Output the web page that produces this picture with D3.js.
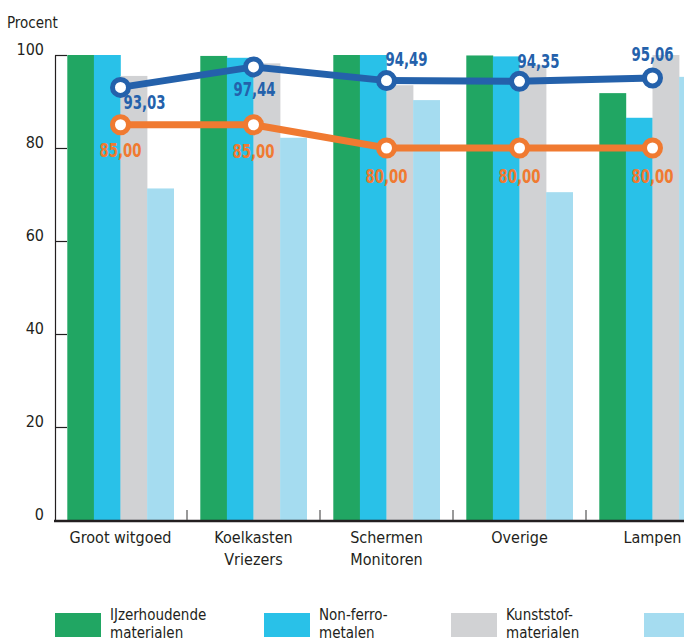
<!DOCTYPE html>
<html>
<head>
<meta charset="utf-8">
<script src="https://cdn.jsdelivr.net/npm/d3@7"></script>
<style>
  body { margin: 0; background: #fff; }
  svg text { font-family: "DejaVu Sans Condensed", "DejaVu Sans", sans-serif; font-stretch: condensed; fill: #231f20; }
</style>
</head>
<body>
<div id="graph"></div>
<script>
// data
var categories = ["Groot witgoed", "Koelkasten\nVriezers", "Schermen\nMonitoren", "Overige", "Lampen"]
var series = ["IJzerhoudende\nmaterialen", "Non-ferro-\nmetalen", "Kunststof-\nmaterialen", "Overige\nmaterialen"]
var ijzer     = [100, 99.8, 100, 99.9, 91.8]
var nonferro  = [100, 99.4, 100, 99.7, 86.5]
var kunststof = [95.5, 98.2, 93.5, 97.8, 100]
var overig    = [71.3, 82.2, 90.3, 70.5, 95.3]
var hergebruik = [93.03, 97.44, 94.49, 94.35, 95.06]   // blue line
var norm       = [85, 85, 80, 80, 80]                   // orange line
var yTicks = [0, 20, 40, 60, 80, 100]

var width = 684, height = 639
var barColors = ["#21a663", "#29c1e8", "#d1d2d4", "#a5dcf0"]
var blue = "#2461ab", orange = "#f07a31"

var svg = d3.select("#graph").append("svg").attr("width", width).attr("height", height)

var x = d3.scaleBand().domain(d3.range(categories.length)).range([54, 719])
    .paddingInner(0.2).paddingOuter(0.1)
var x1 = d3.scaleBand().domain(d3.range(series.length)).range([0, x.bandwidth()])
var y = d3.scaleLinear().domain([0, 100]).range([520, 55])

var values = [ijzer, nonferro, kunststof, overig]

// bars
var groups = svg.append("g").selectAll("g").data(categories).enter().append("g")
    .attr("transform", function (d, i) { return "translate(" + x(i) + ",0)" })
groups.selectAll("rect").data(function (d, i) { return values.map(function (s) { return s[i] }) })
    .enter().append("rect")
    .attr("x", function (d, j) { return x1(j) })
    .attr("width", x1.bandwidth() + 0.3)
    .attr("y", function (d) { return y(d) })
    .attr("height", function (d) { return y(0) - y(d) })
    .attr("fill", function (d, j) { return barColors[j] })

// y axis
var yAxis = svg.append("g").attr("transform", "translate(55,0)")
    .call(d3.axisLeft(y).tickValues(yTicks).tickSize(-12).tickSizeOuter(0).tickPadding(11))
yAxis.attr("font-family", null).attr("font-size", null)
yAxis.select(".domain").attr("stroke", "#231f20").attr("stroke-width", 1.2)
yAxis.selectAll(".tick line").attr("stroke", "#231f20").attr("stroke-width", 1.2)
    .style("display", function (d) { return d === 0 ? "none" : null })
yAxis.selectAll(".tick text").attr("font-size", 16).attr("dy", "-0.02em")

svg.append("text").attr("x", 7).attr("y", 28).attr("font-size", 15).text("Procent")

// x axis
var xAxisG = svg.append("g")
xAxisG.append("line").attr("x1", 54).attr("x2", width).attr("y1", y(0) + 1).attr("y2", y(0) + 1)
    .attr("stroke", "#231f20").attr("stroke-width", 2.5)
xAxisG.selectAll(".sep").data(d3.range(1, categories.length)).enter().append("line")
    .attr("x1", function (i) { return x(i) - x.step() * x.paddingInner() / 2 })
    .attr("x2", function (i) { return x(i) - x.step() * x.paddingInner() / 2 })
    .attr("y1", y(0) - 10).attr("y2", y(0))
    .attr("stroke", "#555").attr("stroke-width", 1.2)
var catLabels = xAxisG.selectAll(".cat").data(categories).enter().append("text")
    .attr("text-anchor", "middle").attr("font-size", 16)
catLabels.selectAll("tspan").data(function (d, i) { return d.split("\n").map(function (t) { return { t: t, i: i } }) })
    .enter().append("tspan")
    .attr("x", function (d) { return x(d.i) + x.bandwidth() / 2 })
    .attr("y", function (d, k) { return 543 + k * 22 })
    .text(function (d) { return d.t })

// lines
var cx = function (d, i) { return x(i) + x.bandwidth() / 2 }
var line = d3.line().x(cx).y(function (d) { return y(d) })

function drawLine(data, color, labelOffsets) {
    svg.append("path").datum(data).attr("d", line)
        .attr("fill", "none").attr("stroke", color).attr("stroke-width", 7)
    svg.append("g").selectAll("circle").data(data).enter().append("circle")
        .attr("cx", cx).attr("cy", function (d) { return y(d) })
        .attr("r", 8).attr("fill", "#fff").attr("stroke", color).attr("stroke-width", 5)
    svg.append("g").selectAll("text").data(data).enter().append("text")
        .attr("transform", function (d, i) {
            return "translate(" + (cx(d, i) + labelOffsets[i][0]) + "," + (y(d) + labelOffsets[i][1]) + ") scale(0.78,1)"
        })
        .attr("text-anchor", "middle").attr("font-size", 19).attr("font-weight", "bold")
        .style("fill", color)
        .text(function (d) { return d3.format(".2f")(d).replace(".", ",") })
}
drawLine(hergebruik, blue, [[24, 22], [1, 29], [20, -15], [19, -13], [0, -17]])
drawLine(norm, orange, [[0, 32], [0, 33], [0, 35], [0, 35], [0, 35]])

// legend
var legendX = [55, 264, 451, 644]
var legend = svg.append("g").selectAll("g").data(series).enter().append("g")
    .attr("transform", function (d, i) { return "translate(" + legendX[i] + ",613)" })
legend.append("rect").attr("width", 46).attr("height", 24).attr("fill", function (d, i) { return barColors[i] })
legend.append("text").attr("font-size", 15)
    .selectAll("tspan").data(function (d) { return d.split("\n") })
    .enter().append("tspan")
    .attr("x", 55).attr("y", function (d, k) { return 7 + k * 18 })
    .text(function (d) { return d })
</script>
</body>
</html>
